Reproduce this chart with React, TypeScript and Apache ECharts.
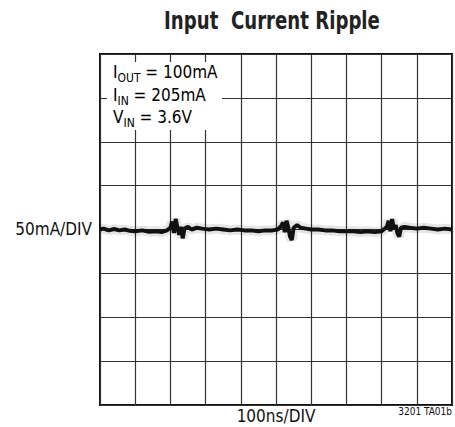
import React, { useEffect, useRef } from "react";
import * as echarts from "echarts";

const timeNs = [0, 10, 25, 40, 55, 70, 85, 100, 120, 140, 160, 175, 190, 200, 205, 210, 215, 220, 225, 230, 235, 240, 250, 260, 275, 290, 310, 330, 350, 370, 390, 410, 430, 450, 470, 490, 505, 515, 520, 525, 530, 535, 540, 545, 550, 560, 570, 585, 600, 620, 640, 660, 680, 700, 720, 740, 760, 780, 800, 815, 820, 825, 830, 835, 840, 845, 850, 855, 865, 880, 900, 920, 940, 960, 980, 1000];
const rippleMa = [0, 1, -1, 0.5, -1, 0, -1.5, -2, -1, -2.5, -2, -3, -1, 2, 9, -4, 12, 2, -6, 3, -10, 1, 3, 0, 2, 1, 0, 1, 0, -1, 0, -1, -1, -2, -1, -1, 0, 4, 8, -3, 10, 2, -8, -12, 2, 5, 2, 1, 0, 0, -1, -1, -2, -2, -2, -3, -2, -3, -2, 3, 10, -2, 12, 0, 5, -4, -8, 2, 3, 2, 1, 2, 1, 0, 1, 0];

const FONT = "'Liberation Sans Narrow', 'DejaVu Sans Condensed', 'Liberation Sans', sans-serif";

export default function App() {
  const ref = useRef<HTMLDivElement>(null);
  useEffect(() => {
    const chart = echarts.init(ref.current!, undefined, { renderer: "svg" });
    const data = timeNs.map((t, i) => [t, rippleMa[i]]);
    const rich = {
      m: { fontSize: 17, fontFamily: FONT, color: "#111", lineHeight: 24, verticalAlign: "middle" },
      s: { fontSize: 12, fontFamily: FONT, color: "#111", lineHeight: 12, verticalAlign: "bottom" },
    };
    chart.setOption({
      animation: false,
      backgroundColor: "#fff",
      grid: { left: 100, right: 3, top: 54, bottom: 22, show: true, borderColor: "#111", borderWidth: 2, backgroundColor: "transparent" },
      xAxis: {
        type: "value", min: 0, max: 1000, interval: 100,
        axisLabel: { show: false }, axisTick: { show: false }, axisLine: { show: false },
        splitLine: { show: true, lineStyle: { color: "#333", width: 1.2 } },
      },
      yAxis: {
        type: "value", min: -200, max: 200, interval: 50,
        axisLabel: { show: false }, axisTick: { show: false }, axisLine: { show: false },
        splitLine: { show: true, lineStyle: { color: "#333", width: 1.2 } },
      },
      series: [
        { type: "line", data, showSymbol: false, silent: true, lineStyle: { width: 10, color: "rgba(0,0,0,0.10)" }, z: 2 },
        { type: "line", data, showSymbol: false, silent: true, lineStyle: { width: 4, color: "#111" }, z: 3 },
      ],
      graphic: [
        { type: "text", z: 101, x: 272, y: 20, scaleX: 0.84, style: { text: "Input  Current Ripple", fontSize: 24, fontWeight: "bold", fontFamily: FONT, fill: "#222", align: "center", verticalAlign: "middle" } },
        { type: "rect", z: 100, shape: { x: 107, y: 62, width: 115, height: 68 }, style: { fill: "#fff" } },
        { type: "text", z: 101, x: 113, y: 60, style: { text: "{m|I}{s|OUT}{m| = 100mA}", rich } },
        { type: "text", z: 101, x: 113, y: 83, style: { text: "{m|I}{s|IN}{m| = 205mA}", rich } },
        { type: "text", z: 101, x: 113, y: 105, style: { text: "{m|V}{s|IN}{m| = 3.6V}", rich } },
        { type: "text", z: 101, x: 92, y: 229, style: { text: "50mA/DIV", fontSize: 17, fontFamily: FONT, fill: "#111", align: "right", verticalAlign: "middle" } },
        { type: "text", z: 101, x: 276, y: 416, style: { text: "100ns/DIV", fontSize: 17, fontFamily: FONT, fill: "#111", align: "center", verticalAlign: "middle" } },
        { type: "text", z: 101, x: 452, y: 411, style: { text: "3201 TA01b", fontSize: 10, fontFamily: FONT, fill: "#111", align: "right", verticalAlign: "middle" } },
      ],
    });
    return () => chart.dispose();
  }, []);
  return <div ref={ref} style={{ position: "fixed", left: 0, top: 0, width: 455, height: 427 }} />;
}
